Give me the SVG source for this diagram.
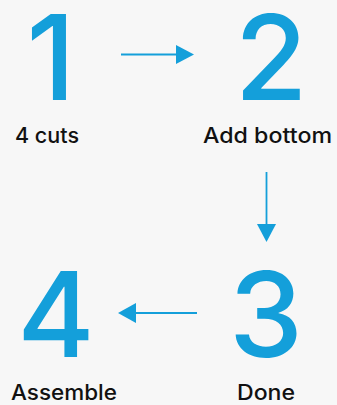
<svg xmlns="http://www.w3.org/2000/svg" width="337" height="405" viewBox="0 0 337 405">
<defs>
<style>
.num{font-family:"Inter","Lato","Liberation Sans",sans-serif;font-weight:500;font-size:118px;fill:#149fda;text-anchor:middle}
.lbl{font-family:"Inter","Lato","Liberation Sans",sans-serif;font-weight:500;font-size:21px;fill:#111;text-anchor:middle}
.ln{stroke:#149fda;stroke-width:1.8;fill:none}
.hd{fill:#149fda}
</style>
</defs>
<rect width="337" height="405" fill="#f7f7f7"/>
<g id="node1"><text class="num" x="51" y="100">1</text><text class="lbl" x="47" y="143" textLength="64" lengthAdjust="spacingAndGlyphs">4 cuts</text></g>
<g id="node2"><text class="num" x="271" y="100">2</text><text class="lbl" x="267.5" y="143" textLength="129" lengthAdjust="spacingAndGlyphs">Add bottom</text></g>
<g id="node3"><text class="num" x="266" y="357">3</text><text class="lbl" x="266" y="400" textLength="58" lengthAdjust="spacingAndGlyphs">Done</text></g>
<g id="node4"><text class="num" x="56" y="357">4</text><text class="lbl" x="64" y="400" textLength="106" lengthAdjust="spacingAndGlyphs">Assemble</text></g>
<g id="connectors">
<line class="ln" x1="121" y1="54.5" x2="178" y2="54.5"/><polygon class="hd" points="176,45 194,54.5 176,64"/>
<line class="ln" x1="266.5" y1="172" x2="266.5" y2="226"/><polygon class="hd" points="257,224 276,224 266.5,242"/>
<line class="ln" x1="197" y1="313" x2="134" y2="313"/><polygon class="hd" points="136,303 136,323 118,313"/>
</g>
</svg>
